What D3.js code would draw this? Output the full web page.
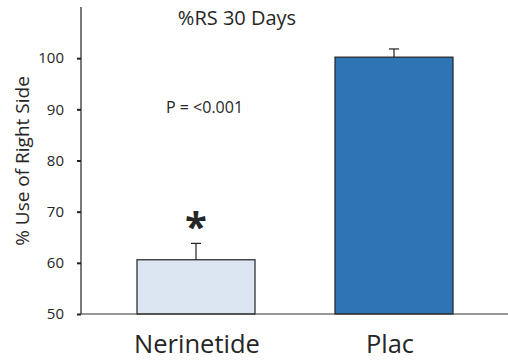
<!DOCTYPE html>
<html>
<head>
<meta charset="utf-8">
<script src="https://cdn.jsdelivr.net/npm/d3@7"></script>
<style>
  body { margin: 0; background: #fff; }
  text { font-family: "Open Sans", sans-serif; fill: #262626; }
</style>
</head>
<body>
<div id="chart"></div>
<script>
// chart data
const groups = ["Nerinetide", "Plac"];
const means = [60.6, 100.2];
const errors = [3.2, 1.6];
const fills = ["#dce6f2", "#2e75b6"];
const yTicks = [50, 60, 70, 80, 90, 100];

const width = 508, height = 360;
const margin = {top: 7, right: 0, bottom: 46, left: 81};

let svg = d3.select("#chart").append("svg")
    .attr("width", width)
    .attr("height", height);

// scales
let y = d3.scaleLinear()
    .domain([50, 110])
    .range([height - margin.bottom, margin.top]);

let x = d3.scaleBand()
    .domain(groups)
    .range([margin.left, width + 1])
    .paddingInner(0.404)
    .paddingOuter(0.2828);

//Bars
svg.selectAll("rect.bar")
    .data(groups)
    .enter().append("rect")
    .attr("class", "bar")
    .attr("x", d => x(d))
    .attr("y", (d, i) => y(means[i]))
    .attr("width", x.bandwidth())
    .attr("height", (d, i) => y(50) - y(means[i]))
    .attr("fill", (d, i) => fills[i])
    .attr("stroke", "#222")
    .attr("stroke-width", 1.2);

// error bars (upper only)
let eb = svg.selectAll("g.err")
    .data(groups)
    .enter().append("g")
    .attr("class", "err")
    .attr("stroke", "#222")
    .attr("stroke-width", 1.2);
eb.append("line")
    .attr("x1", d => x(d) + x.bandwidth() / 2)
    .attr("x2", d => x(d) + x.bandwidth() / 2)
    .attr("y1", (d, i) => y(means[i]))
    .attr("y2", (d, i) => y(means[i] + errors[i]));
eb.append("line")
    .attr("x1", d => x(d) + x.bandwidth() / 2 - 5)
    .attr("x2", d => x(d) + x.bandwidth() / 2 + 5)
    .attr("y1", (d, i) => y(means[i] + errors[i]))
    .attr("y2", (d, i) => y(means[i] + errors[i]));

// y axis
let yAxis = svg.append("g")
    .attr("transform", "translate(" + margin.left + ",0)")
    .call(d3.axisLeft(y).tickValues(yTicks).tickSize(4).tickPadding(13).tickSizeOuter(0));
yAxis.select(".domain").remove();
yAxis.selectAll(".tick line").attr("stroke", "#222").attr("stroke-width", 2);
yAxis.selectAll(".tick text")
    .attr("font-family", "Open Sans, sans-serif")
    .attr("font-size", 15)
    .attr("fill", "#262626");
svg.append("line")
    .attr("x1", margin.left).attr("x2", margin.left)
    .attr("y1", y(110)).attr("y2", y(50))
    .attr("stroke", "#222").attr("stroke-width", 1.2);

// x axis line
svg.append("line")
    .attr("x1", margin.left).attr("x2", width)
    .attr("y1", y(50)).attr("y2", y(50))
    .attr("stroke", "#333").attr("stroke-width", 1.2);

// category labels
svg.selectAll("text.cat")
    .data(groups)
    .enter().append("text")
    .attr("class", "cat")
    .attr("x", (d, i) => x(d) + x.bandwidth() / 2 - (i == 1 ? 4 : -1))
    .attr("y", 353)
    .attr("text-anchor", "middle")
    .attr("font-size", 25.5)
    .text(d => d);

// y label
svg.append("text")
    .attr("transform", "translate(29,161) rotate(-90)")
    .attr("text-anchor", "middle")
    .attr("font-size", 19)
    .text("% Use of Right Side");

// title
svg.append("text")
    .attr("x", 237)
    .attr("y", 25)
    .attr("text-anchor", "middle")
    .attr("font-size", 20)
    .text("%RS 30 Days");

// p value
svg.append("text")
    .attr("x", 166)
    .attr("y", 113)
    .attr("font-family", "Liberation Sans, Arial, sans-serif")
    .attr("font-size", 16)
    .text("P = <0.001");

// significance mark
svg.append("text")
    .attr("x", x(groups[0]) + x.bandwidth() / 2)
    .attr("y", 241)
    .attr("text-anchor", "middle")
    .attr("font-family", "DejaVu Sans, sans-serif")
    .attr("font-weight", "bold")
    .attr("font-size", 40)
    .text("*");
</script>
</body>
</html>
